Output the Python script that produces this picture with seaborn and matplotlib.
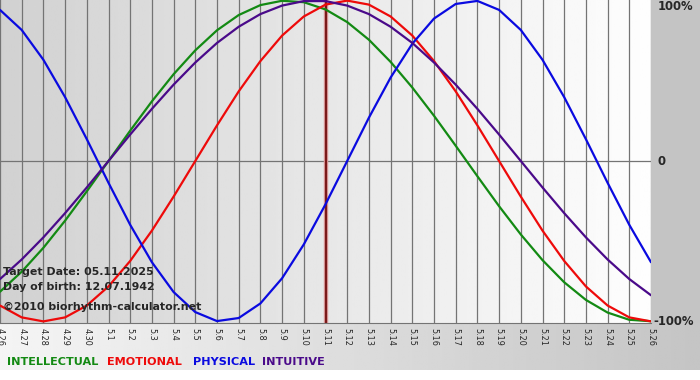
import matplotlib
matplotlib.use("Agg")
import matplotlib.pyplot as plt
from matplotlib.patches import Rectangle
import numpy as np
import pandas as pd
import seaborn as sns

# day labels (month.day) and biorhythm values, one per day
day_labels = ['4.26', '4.27', '4.28', '4.29', '4.30', '5.1', '5.2', '5.3', '5.4', '5.5',
              '5.6', '5.7', '5.8', '5.9', '5.10', '5.11', '5.12', '5.13', '5.14', '5.15',
              '5.16', '5.17', '5.18', '5.19', '5.20', '5.21', '5.22', '5.23', '5.24', '5.25',
              '5.26']
intellectual = [-0.815, -0.690, -0.541, -0.372, -0.189, 0.0, 0.189, 0.372, 0.541, 0.690,
                0.815, 0.910, 0.972, 0.999, 0.990, 0.945, 0.866, 0.756, 0.618, 0.458,
                0.282, 0.095, -0.095, -0.282, -0.458, -0.618, -0.756, -0.866, -0.945, -0.990,
                -0.999]
emotional = [-0.901, -0.975, -1.0, -0.975, -0.901, -0.782, -0.623, -0.434, -0.222, 0.0,
             0.222, 0.434, 0.623, 0.782, 0.901, 0.975, 1.0, 0.975, 0.901, 0.782,
             0.623, 0.434, 0.222, 0.0, -0.222, -0.434, -0.623, -0.782, -0.901, -0.975,
             -1.0]
physical = [0.942, 0.817, 0.631, 0.398, 0.136, -0.136, -0.398, -0.631, -0.817, -0.942,
            -0.998, -0.979, -0.888, -0.731, -0.520, -0.270, 0.0, 0.270, 0.520, 0.731,
            0.888, 0.979, 0.998, 0.942, 0.817, 0.631, 0.398, 0.136, -0.136, -0.398,
            -0.631]
intuitive = [-0.736, -0.614, -0.476, -0.325, -0.165, 0.0, 0.165, 0.325, 0.476, 0.614,
             0.736, 0.837, 0.916, 0.969, 0.997, 0.997, 0.969, 0.916, 0.837, 0.736,
             0.614, 0.476, 0.325, 0.165, 0.0, -0.165, -0.325, -0.476, -0.614, -0.736,
             -0.837]
target_day = '5.11'

colors = {'INTELLECTUAL': '#138a13', 'EMOTIONAL': '#ee0a0a',
          'PHYSICAL': '#0a0ae0', 'INTUITIVE': '#4a0a8a'}

days = list(range(len(day_labels)))
df = pd.concat([
    pd.DataFrame({'day': days, 'value': intellectual, 'rhythm': 'INTELLECTUAL'}),
    pd.DataFrame({'day': days, 'value': emotional, 'rhythm': 'EMOTIONAL'}),
    pd.DataFrame({'day': days, 'value': physical, 'rhythm': 'PHYSICAL'}),
    pd.DataFrame({'day': days, 'value': intuitive, 'rhythm': 'INTUITIVE'}),
])

sns.set_style("white")
plt.rcParams['font.family'] = ['DejaVu Sans']

fig = plt.figure(figsize=(7, 3.8), dpi=100, facecolor='white')

# background panels (pixel coordinates)
bg = fig.add_axes([0, 0, 1, 1])
bg.set_xlim(0, 700)
bg.set_ylim(380, 0)
bg.axis('off')
bg.add_patch(Rectangle((651, 0), 49, 323, color='#c4c4c4', lw=0))
bg.imshow(np.linspace(0.96, 0.77, 256)[None, :], extent=(0, 700, 370, 321),
          cmap='gray', vmin=0, vmax=1, aspect='auto')

ax = fig.add_axes([0, 1 - 323 / 380, 651 / 700, 324 / 380])
ax.imshow(np.linspace(0.82, 0.995, 256)[None, :], extent=(0, 30, -1.01, 1.01),
          cmap='gray', vmin=0, vmax=1, aspect='auto', zorder=0)

ax.set_axisbelow(True)
ax.grid(axis='x', color='#747474', lw=0.9)
ax.axhline(0, color='#747474', lw=0.9, zorder=0.6)

t = day_labels.index(target_day)
ax.axvline(t, color='#e0a0a0', lw=3.2, zorder=1.5)
ax.axvline(t, color='#7a1a1a', lw=1.6, zorder=1.6)

sns.lineplot(data=df, x='day', y='value', hue='rhythm', palette=colors,
             linewidth=1.6, legend=False, ax=ax, zorder=2)

ax.set_xlim(0, 30)
ax.set_ylim(-1.01, 1.01)
ax.set_xticks(days)
ax.set_xticklabels(day_labels, rotation=270, fontsize=6.5, stretch='condensed')
ax.set_yticks([])
ax.tick_params(axis='x', length=2.5, color='#747474', pad=1)
ax.set_xlabel('')
ax.set_ylabel('')
for s in ['left', 'top', 'right']:
    ax.spines[s].set_visible(False)
ax.spines['bottom'].set_color('#747474')

# right-hand percent labels
ax.text(30.3, 1.005, '100%', va='top', ha='left', fontsize=8.4, fontweight='bold', clip_on=False)
ax.text(30.3, 0, '0', va='center', ha='left', fontsize=8.4, fontweight='bold', clip_on=False)
ax.text(30.1, -1.0, '-100%', va='center', ha='left', fontsize=8.4, fontweight='bold', clip_on=False)

# info text
info = [('Target Date: 05.11.2025', -0.69), ('Day of birth: 12.07.1942', -0.785),
        ('\u00a92010 biorhythm-calculator.net', -0.91)]
for txt, yv in info:
    ax.text(0.13, yv, txt, va='center', ha='left', fontsize=7.9, fontweight='bold')

# coloured legend words
for name, xpx in [('INTELLECTUAL', 7), ('EMOTIONAL', 107), ('PHYSICAL', 193), ('INTUITIVE', 262)]:
    fig.text(xpx / 700, 1 - 362 / 380, name, color=colors[name], fontsize=8.1,
             fontweight='bold', va='center', ha='left')

fig.savefig('out.png', dpi=100)
